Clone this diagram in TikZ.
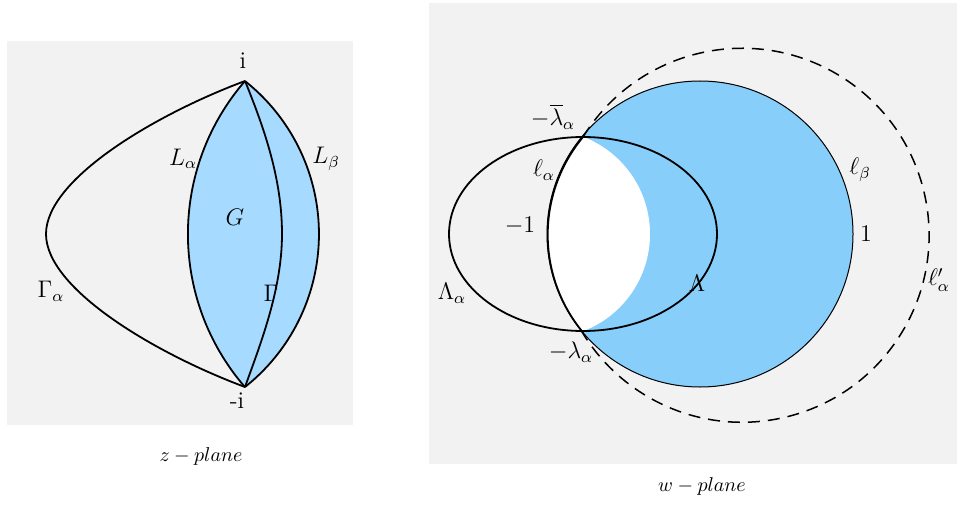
\documentclass[tikz,border=0pt]{standalone}
\usepackage{amsmath,amssymb}
\usepackage{xcolor}
\usepackage{tikz}
\usetikzlibrary{arrows.meta,positioning,calc}
\definecolor{panelgray}{RGB}{242,242,242}
\definecolor{lensblue}{RGB}{166,218,255}
\definecolor{diskblue}{RGB}{135,206,250}

\begin{document}
\begin{tikzpicture}[x=0.5pt, y=0.5pt,
    curve/.style={black, line width=0.9pt},
    rim/.style={black, line width=0.5pt},
    label/.style={font=\large, inner sep=1pt},
    caption/.style={font=\normalsize, inner sep=1pt}
]
\useasboundingbox (0,0) rectangle (957,504);

% Left panel: z-plane
\fill[panelgray] (7,79) rectangle (353,463);
\coordinate (zi) at (245,423);
\coordinate (zmi) at (245,117);

% Region G between L_alpha and L_beta
\fill[lensblue] (zi) arc[start angle=139.1, end angle=220.9, radius=233.8]
    arc[start angle=-51.6, end angle=51.6, radius=195.2] -- cycle;
\draw[curve] (zi) arc[start angle=139.1, end angle=220.9, radius=233.8];
\draw[curve] (zmi) arc[start angle=-51.6, end angle=51.6, radius=195.2];

% Gamma inside G
\draw[curve] (zi) .. controls (265,374) and (282,324) .. (282,270)
    .. controls (282,214) and (260,159) .. (zmi);

% Gamma_alpha
\draw[curve] (zi) .. controls (155.7,389.7) and (46,325) .. (46,270)
    .. controls (46,215) and (155.7,150.3) .. (zmi);

% Labels of the z-plane
\node[label] (ilab) at (243,443) {i};
\node[label] (milab) at (237,103) {-i};
\node[label] (la) at (183,345) {$L_\alpha$};
\node[label] (lb) at (326,345) {$L_\beta$};
\node[label] (g) at (235,287) {$G$};
\node[label] (gam) at (271,211) {$\Gamma$};
\node[label] (gama) at (51,213) {$\Gamma_\alpha$};
\node[caption] (zplane) at (201,48) {$z-plane$};

% Right panel: w-plane
\fill[panelgray] (429,40) rectangle (957,501);
\coordinate (wc) at (700,270);
\coordinate (wtop) at (583,367);
\fill[diskblue] (wc) circle[radius=153];
\begin{scope}
  \clip (wc) circle[radius=153];
  \fill[white] (546,270) circle[radius=104];
\end{scope}
\draw[rim] (wc) circle[radius=153];

% ell_alpha, Lambda_alpha and ell'_alpha
\draw[curve] (wtop) arc[start angle=140.3, end angle=219.7, radius=153];
\draw[curve] (583,270) ellipse[x radius=134, y radius=97];
\draw[black, line width=0.75pt, dash pattern=on 6pt off 4pt]
    (wtop) arc[start angle=148.3, end angle=-149, radius=187];

% Labels of the w-plane
\node[label] (lbar) at (553,387) {$-\overline{\lambda}_\alpha$};
\node[label] (ella) at (544,334) {$\ell_\alpha$};
\node[label] (mone) at (520,278) {$-1$};
\node[label] (lama) at (452,211) {$\Lambda_\alpha$};
\node[label] (mlam) at (571,152) {$-\lambda_\alpha$};
\node[label] (lam) at (697,221) {$\Lambda$};
\node[label] (ellb) at (860,334) {$\ell_\beta$};
\node[label] (one) at (866,270) {$1$};
\node[label] (ellpa) at (939,224) {$\ell'_\alpha$};
\node[caption] (wplane) at (702,18) {$w-plane$};

\end{tikzpicture}
\end{document}
